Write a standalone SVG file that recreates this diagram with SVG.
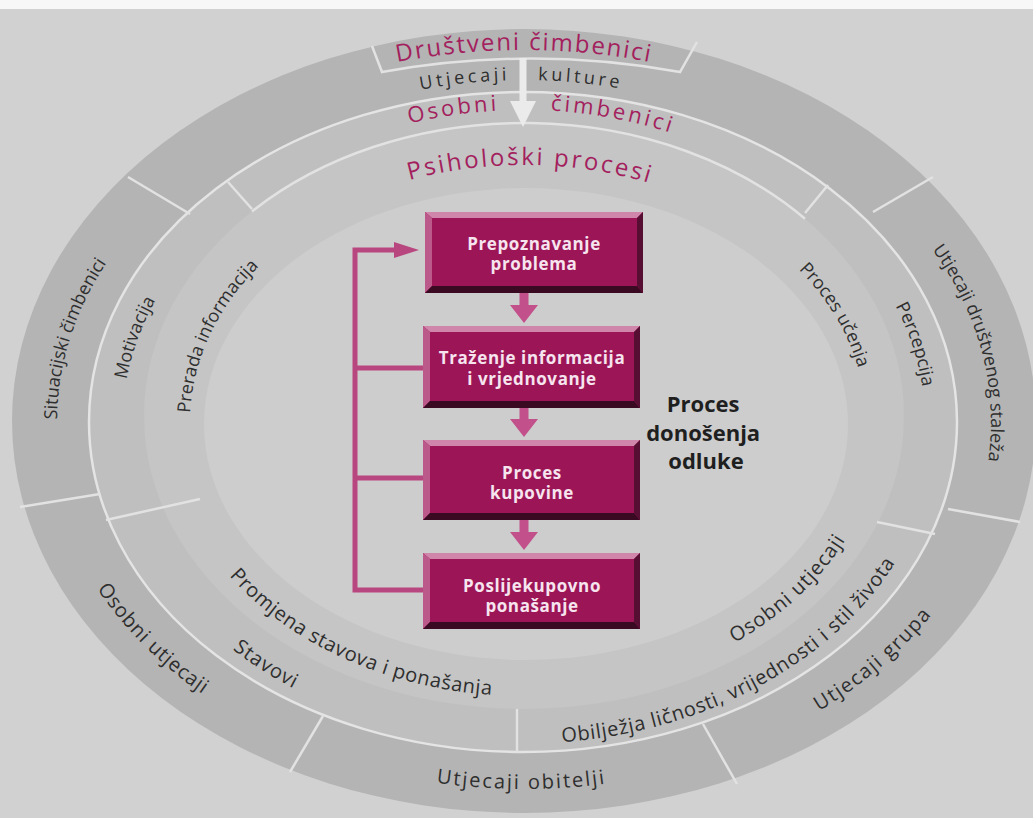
<svg xmlns="http://www.w3.org/2000/svg" width="1033" height="818" viewBox="0 0 1033 818">
<defs>
<style>
.lbl{font-family:'Open Sans','Liberation Sans',sans-serif;font-size:18px;fill:#2e2e2e}
.lbb{font-family:'Open Sans','Liberation Sans',sans-serif;font-size:20px;fill:#2e2e2e}
.ttl{font-family:'Open Sans','Liberation Sans',sans-serif;fill:#a31f5e}
.div{stroke:#e2e2e2;stroke-width:2.5;fill:none}
.face{fill:#9b1557}
.bt{fill:#cf86aa}
.bl{fill:#bb5a8a}
.bb{fill:#3a0922}
.br{fill:#560f32}
.bx{font-family:'Open Sans','Liberation Sans',sans-serif;font-size:17px;font-weight:bold;fill:#f6e4ee;text-anchor:middle;letter-spacing:0.6px}
.loop{stroke:#b9477f;stroke-width:5;fill:none}
.arr{fill:#c2508a}
</style>
<path id="p-sit" d="M57.5,438.1 A467,355 0 0,1 117.1,247.7"/>
<path id="p-mot" d="M124.8,392.4 A401,309 0 0,1 162.1,289"/>
<path id="p-pre" d="M190,423.8 A334,256 0 0,1 266.7,258.8"/>
<path id="p-stal" d="M914.8,227.6 A467,355 0 0,1 982.7,488.5"/>
<path id="p-perc" d="M883.8,285.6 A401,309 0 0,1 924.7,410.1"/>
<path id="p-ucen" d="M778.1,250.7 A342,256 0 0,1 864.1,395.2"/>
<path id="p-osu1" d="M80.5,560.7 A479,367 0 0,0 230.4,712"/>
<path id="p-stav" d="M210,630.5 A413,321 0 0,0 320.6,701.4"/>
<path id="p-prom" d="M212.9,555.2 A356,274 0 0,0 518.4,696"/>
<path id="p-obit" d="M405.7,777.6 A479,367 0 0,0 637.4,778.6"/>
<path id="p-obil" d="M520,743.5 A413,321 0 0,0 915,525"/>
<path id="p-grup" d="M788.4,728 A479,367 0 0,0 952.7,585.8"/>
<path id="p-osu3" d="M716.3,652.6 A356,274 0 0,0 855.7,521.5"/>
<path id="p-drus" d="M336.7,77.1 A500,372 0 0,1 711.3,77.1"/>
<path id="p-kult" d="M360.7,104.9 A436,342 0 0,1 687.3,104.9"/>
<path id="p-osc" d="M340.4,146.5 A391,312 0 0,1 707.6,146.5"/>
<path id="p-psi" d="M354,199.4 A340,257 0 0,1 694,199.4"/>
</defs>

<rect x="0" y="0" width="1033" height="818" fill="#d1d1d1"/>
<rect x="0" y="0" width="1033" height="9" fill="#f7f7f7"/>

<g id="rings">
<ellipse cx="524" cy="421" rx="512" ry="392" fill="#b4b4b4"/>
<ellipse cx="523" cy="422" rx="434" ry="330" fill="#bfbfbf" stroke="#e4e4e4" stroke-width="2.5"/>
<ellipse cx="524" cy="416" rx="380" ry="293" fill="#c5c5c5"/>
<ellipse cx="526" cy="424" rx="322" ry="236" fill="#cdcdcd"/>
<path class="div" d="M252,211.4 A380,293 0 0,1 805,218.8"/>
<path class="div" d="M128,177 L190,214"/>
<path class="div" d="M933,177 L873,212"/>
<path class="div" d="M20,507 L100,494"/>
<path class="div" d="M1020,522 L948,509"/>
<path class="div" d="M290,772 L323,716"/>
<path class="div" d="M737,784 L703,724"/>
<path class="div" d="M228,182 L252,209"/>
<path class="div" d="M828,185 L805,213"/>
<path class="div" d="M106,520 L200,499"/>
<path class="div" d="M877,522 L935,534"/>
<path class="div" d="M517,709 L517,753"/>
<path class="div" d="M372,46 L382,72 A557,362 0 0,1 680,72 L697,42"/>
<path d="M519.5,58 H526.5 V101 H536 L523,127 L510,101 H519.5 Z" fill="#ebebeb"/>
</g>

<g id="ring-labels">
<text class="ttl" font-size="24" letter-spacing="1.8"><textPath href="#p-drus" startOffset="50%" text-anchor="middle">Društveni čimbenici</textPath></text>
<text class="lbl" font-size="20" letter-spacing="3.5"><textPath href="#p-kult" startOffset="45.8%" text-anchor="end">Utjecaji</textPath></text>
<text class="lbl" font-size="20" letter-spacing="3.5"><textPath href="#p-kult" startOffset="54.2%" text-anchor="start">kulture</textPath></text>
<text class="ttl" font-size="22" letter-spacing="3"><textPath href="#p-osc" startOffset="43.5%" text-anchor="end">Osobni</textPath></text>
<text class="ttl" font-size="22" letter-spacing="3"><textPath href="#p-osc" startOffset="57%" text-anchor="start">čimbenici</textPath></text>
<text class="ttl" font-size="24" letter-spacing="2.5"><textPath href="#p-psi" startOffset="51.8%" text-anchor="middle">Psihološki procesi</textPath></text>

<text class="lbl"><textPath href="#p-sit" startOffset="50%" text-anchor="middle">Situacijski čimbenici</textPath></text>
<text class="lbl"><textPath href="#p-mot" startOffset="50%" text-anchor="middle">Motivacija</textPath></text>
<text class="lbl"><textPath href="#p-pre" startOffset="50%" text-anchor="middle">Prerada informacija</textPath></text>
<text class="lbl"><textPath href="#p-stal" startOffset="50%" text-anchor="middle">Utjecaji društvenog staleža</textPath></text>
<text class="lbl"><textPath href="#p-perc" startOffset="50%" text-anchor="middle">Percepcija</textPath></text>
<text class="lbl"><textPath href="#p-ucen" startOffset="50%" text-anchor="middle">Proces učenja</textPath></text>
<text class="lbb" letter-spacing="0.8"><textPath href="#p-osu1" startOffset="50%" text-anchor="middle">Osobni utjecaji</textPath></text>
<text class="lbb" letter-spacing="1"><textPath href="#p-stav" startOffset="50%" text-anchor="middle">Stavovi</textPath></text>
<text class="lbb" letter-spacing="0.6"><textPath href="#p-prom" startOffset="50%" text-anchor="middle">Promjena stavova i ponašanja</textPath></text>
<text class="lbb" letter-spacing="2"><textPath href="#p-obit" startOffset="50%" text-anchor="middle">Utjecaji obitelji</textPath></text>
<text class="lbb" letter-spacing="0.7"><textPath href="#p-obil" startOffset="50%" text-anchor="middle">Obilježja ličnosti, vrijednosti i stil života</textPath></text>
<text class="lbb" letter-spacing="1.5"><textPath href="#p-grup" startOffset="50%" text-anchor="middle">Utjecaji grupa</textPath></text>
<text class="lbb" letter-spacing="1"><textPath href="#p-osu3" startOffset="50%" text-anchor="middle">Osobni utjecaji</textPath></text>
</g>

<g id="connectors">
<path class="loop" d="M423,590 H355 V250 H396"/>
<polygon points="394,242 394,258 419,250" fill="#b9477f"/>
<path class="loop" d="M355,368 H423"/>
<path class="loop" d="M355,478 H423"/>
<path class="arr" d="M519.5,293 H528.5 V305 H538 L524,323 L510,305 H519.5 Z"/>
<path class="arr" d="M519.5,408 H528.5 V419 H538 L524,437 L510,419 H519.5 Z"/>
<path class="arr" d="M519.5,520 H528.5 V532 H538 L524,550 L510,532 H519.5 Z"/>
</g>

<g id="node-prepoznavanje">
<rect class="face" x="425" y="212" width="218" height="81"/>
<polygon class="bt" points="425,212 643,212 637,218 432,218"/>
<polygon class="bl" points="425,212 432,218 432,286 425,293"/>
<polygon class="bb" points="425,293 432,286 637,286 643,293"/>
<polygon class="br" points="643,212 643,293 637,286 637,218"/>
<text class="bx" x="534" y="250">Prepoznavanje</text>
<text class="bx" x="534" y="270">problema</text>
</g>

<g id="node-trazenje">
<rect class="face" x="423" y="326" width="217" height="82"/>
<polygon class="bt" points="423,326 640,326 634,332 430,332"/>
<polygon class="bl" points="423,326 430,332 430,401 423,408"/>
<polygon class="bb" points="423,408 430,401 634,401 640,408"/>
<polygon class="br" points="640,326 640,408 634,401 634,332"/>
<text class="bx" x="532" y="364">Traženje informacija</text>
<text class="bx" x="532" y="385">i vrjednovanje</text>
</g>

<g id="node-kupovina">
<rect class="face" x="423" y="440" width="217" height="80"/>
<polygon class="bt" points="423,440 640,440 634,446 430,446"/>
<polygon class="bl" points="423,440 430,446 430,513 423,520"/>
<polygon class="bb" points="423,520 430,513 634,513 640,520"/>
<polygon class="br" points="640,440 640,520 634,513 634,446"/>
<text class="bx" x="532" y="479">Proces</text>
<text class="bx" x="532" y="499">kupovine</text>
</g>

<g id="node-poslijekupovno">
<rect class="face" x="423" y="553" width="217" height="76"/>
<polygon class="bt" points="423,553 640,553 634,559 430,559"/>
<polygon class="bl" points="423,553 430,559 430,622 423,629"/>
<polygon class="bb" points="423,629 430,622 634,622 640,629"/>
<polygon class="br" points="640,553 640,629 634,622 634,559"/>
<text class="bx" x="532" y="592">Poslijekupovno</text>
<text class="bx" x="532" y="612">ponašanje</text>
</g>

<g id="node-proces-odluke">
<text font-family="'Open Sans','Liberation Sans',sans-serif" font-size="22" font-weight="bold" fill="#1f1f1f" text-anchor="middle">
<tspan x="706" y="412">Proces</tspan>
<tspan x="706" y="441">donošenja</tspan>
<tspan x="706" y="469">odluke</tspan>
</text>
</g>
</svg>
